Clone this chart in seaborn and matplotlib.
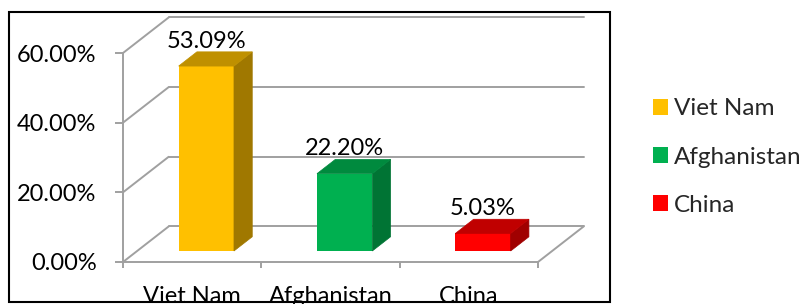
import matplotlib
matplotlib.use("Agg")
import matplotlib.pyplot as plt
import matplotlib.transforms as mtransforms
from matplotlib.patches import Polygon, Rectangle
from matplotlib.ticker import FuncFormatter
import seaborn as sns
import pandas as pd

categories = ["Viet Nam", "Afghanistan", "China"]
values = [53.09, 22.20, 5.03]
value_labels = ["53.09%", "22.20%", "5.03%"]
y_ticks = [0, 20, 40, 60]
front_colors = ["#FFC000", "#00B050", "#FF0000"]
top_colors = ["#BF9000", "#008A3E", "#C00000"]
side_colors = ["#A07800", "#007434", "#A00000"]

sns.set_style("white")
plt.rcParams["font.family"] = ["Lato", "DejaVu Sans"]

W, H = 803, 304
fig = plt.figure(figsize=(W / 100, H / 100), dpi=100)
ax = fig.add_axes([123 / W, 1 - 262 / H, (538 - 123) / W, (262 - 53) / H])
ax.set_facecolor("none")

DX, DY = 0.33, 10.2      # oblique depth projection (data units for full depth)
D0, D1 = 0.31, 0.71      # bar depth range
BAR_W = 0.40
GRAY = "#A0A0A0"
LW = 1.4


def proj(x, y, d):
    return (x + d * DX, y + d * DY)


df = pd.DataFrame({"country": categories, "share": values})
sns.barplot(data=df, x="country", y="share", hue="country", palette=front_colors,
            width=BAR_W, saturation=1, legend=False, ax=ax, zorder=3)

shift = mtransforms.Affine2D().translate(D0 * DX, D0 * DY) + ax.transData
for p in ax.patches:
    p.set_transform(shift)
    p.set_clip_on(False)
    p.set_linewidth(0)

ax.set_xlim(-0.5, len(categories) - 0.5)
ax.set_ylim(y_ticks[0], y_ticks[-1])
x0, x1 = -0.5, len(categories) - 0.5

# walls / floor
for v in y_ticks:
    ax.plot(*zip(proj(x0, v, 1), proj(x1, v, 1)), color=GRAY, lw=LW, clip_on=False, zorder=1)
    ax.plot(*zip(proj(x0, v, 0), proj(x0, v, 1)), color=GRAY, lw=LW, clip_on=False, zorder=1)
ax.plot(*zip(proj(x1, 0, 0), proj(x1, 0, 1)), color=GRAY, lw=LW, clip_on=False, zorder=1)

# 3D faces
for i, h in enumerate(values):
    xl, xr = i - BAR_W / 2, i + BAR_W / 2
    side = [proj(xr, 0, D0), proj(xr, h, D0), proj(xr, h, D1), proj(xr, 0, D1)]
    top = [proj(xl, h, D0), proj(xr, h, D0), proj(xr, h, D1), proj(xl, h, D1)]
    ax.add_patch(Polygon(side, closed=True, fc=side_colors[i], ec=side_colors[i], lw=0.5,
                         clip_on=False, zorder=3))
    ax.add_patch(Polygon(top, closed=True, fc=top_colors[i], ec=top_colors[i], lw=0.5,
                         clip_on=False, zorder=3))
    cx, cy = proj(i, h, D0)
    _, ty = proj(i, h, D1)
    ax.annotate(value_labels[i], xy=(cx, ty), xytext=(0, 3), textcoords="offset points",
                ha="center", va="baseline", fontsize=17, color="black",
                annotation_clip=False, zorder=5)

for s in ["top", "right"]:
    ax.spines[s].set_visible(False)
for s in ["left", "bottom"]:
    ax.spines[s].set_color(GRAY)
    ax.spines[s].set_linewidth(LW)
    ax.spines[s].set_zorder(1)

ax.set_yticks(y_ticks)
ax.yaxis.set_major_formatter(FuncFormatter(lambda v, _: f"{v:.2f}%"))
ax.set_xticks(range(len(categories)))
ax.set_xticklabels(categories)
ax.set_xticks([k - 0.5 for k in range(len(categories) + 1)], minor=True)
ax.tick_params(axis="y", which="major", left=True, direction="out", length=5.5, width=LW,
               color=GRAY, pad=13.5, labelsize=17, labelcolor="black")
ax.tick_params(axis="x", which="major", bottom=True, length=0, pad=17, labelsize=17,
               labelcolor="black")
ax.tick_params(axis="x", which="minor", bottom=True, direction="out", length=4.5, width=LW,
               color=GRAY)
ax.set_xlabel("")
ax.set_ylabel("")

handles = [Rectangle((0, 0), 1, 1, fc=c, ec="none") for c in front_colors]
fig.legend(handles, categories, loc="center left", bbox_to_anchor=(653 / W, 1 - 157 / H),
           frameon=False, fontsize=17.5, handlelength=0.62, handleheight=0.62,
           handletextpad=0.25, labelspacing=1.12, borderpad=0, borderaxespad=0)

fig.add_artist(Rectangle((9 / W, 1 - 302 / H), (610 - 9) / W, (302 - 12) / H,
                         transform=fig.transFigure, fill=False, ec="black", lw=1.5, zorder=10))

fig.savefig("out.png", dpi=100)
